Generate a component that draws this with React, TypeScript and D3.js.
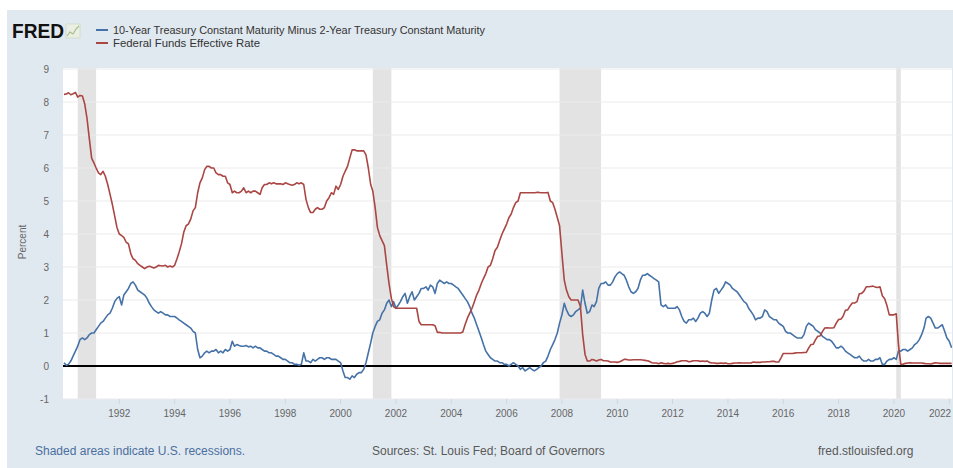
import React from "react";
import * as d3 from "d3";

const fedFundsRate: number[] = [
  8.23, 8.24, 8.28, 8.22, 8.25, 8.29, 8.15, 8.2, 8.18, 7.95, 7.5, 6.9,
  6.3, 6.15, 6.0, 5.85, 5.8, 5.9, 5.75, 5.5, 5.2, 4.9, 4.55, 4.2,
  4.0, 3.95, 3.9, 3.75, 3.7, 3.4, 3.25, 3.2, 3.1, 3.05, 3.0, 2.95,
  3.0, 3.02, 3.0, 2.97, 3.0, 3.05, 3.04, 3.03, 3.05, 3.0, 3.03, 3.0,
  3.05, 3.25, 3.45, 3.7, 4.05, 4.25, 4.3, 4.45, 4.7, 4.8, 5.25, 5.55,
  5.7, 5.95, 6.05, 6.05, 6.0, 6.0, 5.85, 5.8, 5.8, 5.75, 5.75, 5.55,
  5.5, 5.25, 5.3, 5.25, 5.25, 5.3, 5.4, 5.25, 5.3, 5.25, 5.3, 5.3,
  5.25, 5.2, 5.4, 5.5, 5.5, 5.55, 5.52, 5.55, 5.52, 5.52, 5.52, 5.5,
  5.55, 5.52, 5.5, 5.48, 5.5, 5.55, 5.52, 5.55, 5.5, 5.05, 4.8, 4.65,
  4.65, 4.75, 4.8, 4.75, 4.75, 4.8, 5.0, 5.1, 5.25, 5.2, 5.45, 5.35,
  5.5, 5.75, 5.9, 6.05, 6.3, 6.55, 6.55, 6.52, 6.52, 6.52, 6.52, 6.4,
  6.0, 5.5, 5.3, 4.8, 4.2, 3.95, 3.8, 3.65, 3.05, 2.5, 2.05, 1.8,
  1.75, 1.75, 1.75, 1.75, 1.75, 1.75, 1.75, 1.75, 1.75, 1.75, 1.35, 1.25,
  1.25, 1.25, 1.25, 1.25, 1.25, 1.22, 1.02, 1.02, 1.0, 1.0, 1.0, 1.0,
  1.0, 1.0, 1.0, 1.0, 1.0, 1.03, 1.25, 1.45, 1.6, 1.75, 1.95, 2.15,
  2.3, 2.5, 2.65, 2.8, 3.0, 3.05, 3.25, 3.5, 3.6, 3.8, 4.0, 4.15,
  4.3, 4.5, 4.6, 4.8, 4.95, 5.0, 5.25, 5.25, 5.25, 5.25, 5.25, 5.25,
  5.25, 5.26, 5.26, 5.25, 5.25, 5.25, 5.26, 5.0, 4.95, 4.75, 4.5, 4.25,
  3.4, 2.6, 2.3, 2.1, 2.0, 2.0, 2.0, 2.0, 1.8, 0.95, 0.35, 0.15,
  0.15, 0.2, 0.18, 0.15, 0.18, 0.2, 0.16, 0.16, 0.15, 0.12, 0.12, 0.12,
  0.11, 0.13, 0.16, 0.2, 0.2, 0.18, 0.18, 0.19, 0.19, 0.19, 0.19, 0.18,
  0.17, 0.16, 0.14, 0.1, 0.09, 0.09, 0.07, 0.1, 0.08, 0.07, 0.08, 0.07,
  0.08, 0.1, 0.13, 0.14, 0.16, 0.16, 0.16, 0.13, 0.14, 0.16, 0.16, 0.16,
  0.14, 0.15, 0.14, 0.15, 0.11, 0.09, 0.09, 0.08, 0.08, 0.09, 0.08, 0.09,
  0.07, 0.07, 0.08, 0.09, 0.09, 0.1, 0.09, 0.09, 0.09, 0.09, 0.09, 0.12,
  0.11, 0.11, 0.11, 0.12, 0.12, 0.13, 0.13, 0.14, 0.14, 0.12, 0.12, 0.24,
  0.38, 0.38, 0.38, 0.38, 0.38, 0.39, 0.4, 0.4, 0.4, 0.41, 0.41, 0.54,
  0.65, 0.66, 0.79, 0.9, 0.91, 1.04, 1.15, 1.16, 1.15, 1.15, 1.16, 1.3,
  1.41, 1.42, 1.51, 1.69, 1.7, 1.82, 1.91, 1.91, 1.95, 2.19, 2.2, 2.27,
  2.4, 2.4, 2.41, 2.42, 2.39, 2.38, 2.4, 2.13, 2.04, 1.83, 1.55, 1.55,
  1.55, 1.58, 0.65, 0.05, 0.05, 0.08, 0.09, 0.1, 0.09, 0.09, 0.09, 0.09,
  0.09, 0.08, 0.07, 0.07, 0.06, 0.08, 0.1, 0.09, 0.08, 0.08, 0.08, 0.08,
  0.08, 0.08,
];

const spread10y2y: number[] = [
  0.1, 0.02, 0.05, 0.15, 0.3, 0.45, 0.6, 0.8, 0.85, 0.8, 0.85, 0.95,
  1.0, 1.0, 1.1, 1.2, 1.3, 1.35, 1.45, 1.55, 1.6, 1.75, 1.95, 2.05,
  2.1, 1.85, 2.15, 2.25, 2.35, 2.5, 2.55, 2.45, 2.3, 2.25, 2.2, 2.15,
  2.05, 1.9, 1.8, 1.7, 1.65, 1.6, 1.65, 1.6, 1.55, 1.55, 1.5, 1.5,
  1.5, 1.45, 1.4, 1.35, 1.3, 1.25, 1.2, 1.15, 1.05, 1.0, 0.5, 0.25,
  0.3, 0.4, 0.45, 0.4, 0.45, 0.45, 0.5, 0.4, 0.45, 0.4, 0.5, 0.45,
  0.5, 0.75, 0.6, 0.65, 0.62, 0.6, 0.6, 0.62, 0.58, 0.6, 0.55, 0.6,
  0.55, 0.55, 0.5, 0.45, 0.45, 0.4, 0.4, 0.35, 0.3, 0.3, 0.25, 0.2,
  0.2, 0.15, 0.1, 0.1, 0.05, 0.05, 0.02, 0.05, 0.4, 0.15, 0.15, 0.1,
  0.2, 0.15, 0.2, 0.25, 0.25, 0.2, 0.25, 0.25, 0.2, 0.2, 0.2, 0.15,
  0.1, -0.15, -0.35, -0.35, -0.4, -0.3, -0.35, -0.25, -0.2, -0.2, -0.1, 0.1,
  0.4, 0.7, 1.0, 1.2, 1.35, 1.4, 1.6, 1.7, 1.9, 2.0, 1.8, 1.95,
  1.75, 1.85, 1.95, 2.1, 2.2, 1.9, 2.1, 2.25, 2.0, 2.1, 2.2, 2.35,
  2.35, 2.4, 2.3, 2.45, 2.4, 2.2, 2.5, 2.6, 2.55, 2.5, 2.55, 2.5,
  2.5, 2.45, 2.4, 2.35, 2.25, 2.15, 2.05, 1.95, 1.8, 1.6, 1.45, 1.25,
  1.05, 0.85, 0.65, 0.45, 0.35, 0.25, 0.2, 0.15, 0.15, 0.1, 0.1, 0.05,
  0.05, 0.0, 0.05, 0.1, 0.05, 0.0, -0.1, -0.05, -0.15, -0.1, -0.05, -0.1,
  -0.15, -0.1, -0.05, 0.0, 0.1, 0.15, 0.3, 0.5, 0.65, 0.8, 1.0, 1.3,
  1.55, 1.9, 1.7, 1.55, 1.5, 1.55, 1.65, 1.7, 1.75, 2.3, 1.9, 1.6,
  1.65, 1.85, 1.8, 1.95, 2.35, 2.5, 2.5, 2.55, 2.45, 2.45, 2.55, 2.7,
  2.8, 2.85, 2.8, 2.75, 2.6, 2.4, 2.25, 2.2, 2.25, 2.35, 2.6, 2.75,
  2.75, 2.8, 2.75, 2.7, 2.65, 2.6, 2.55, 1.85, 1.8, 1.85, 1.75, 1.75,
  1.75, 1.75, 1.8, 1.7, 1.5, 1.35, 1.3, 1.4, 1.4, 1.45, 1.35, 1.45,
  1.6, 1.65, 1.6, 1.5, 1.6, 2.0, 2.3, 2.35, 2.2, 2.3, 2.4, 2.55,
  2.5, 2.45, 2.35, 2.3, 2.25, 2.15, 2.05, 1.95, 1.9, 1.75, 1.65, 1.55,
  1.4, 1.45, 1.45, 1.5, 1.7, 1.65, 1.5, 1.45, 1.4, 1.4, 1.3, 1.25,
  1.2, 1.05, 1.0, 1.0, 0.95, 0.9, 0.85, 0.85, 0.85, 0.95, 1.2, 1.3,
  1.25, 1.2, 1.1, 1.05, 1.0, 0.9, 0.85, 0.8, 0.8, 0.75, 0.65, 0.55,
  0.55, 0.6, 0.55, 0.45, 0.4, 0.35, 0.3, 0.25, 0.25, 0.3, 0.2, 0.15,
  0.15, 0.2, 0.15, 0.15, 0.2, 0.2, 0.25, 0.05, 0.05, 0.15, 0.2, 0.2,
  0.25, 0.2, 0.45, 0.45, 0.5, 0.5, 0.45, 0.5, 0.55, 0.65, 0.7, 0.8,
  0.95, 1.15, 1.45, 1.5, 1.45, 1.3, 1.15, 1.15, 1.2, 1.25, 1.05, 0.85,
  0.75, 0.55,
];

const startYear = 1990;
const recessionStarts: string[] = ["1990-07-01", "2001-03-01", "2007-12-01", "2020-02-01"];
const recessionEnds: string[] = ["1991-03-01", "2001-11-01", "2009-06-01", "2020-04-01"];
const yTicks: number[] = [-1, 0, 1, 2, 3, 4, 5, 6, 7, 8, 9];
const xTickYears: number[] = [1992, 1994, 1996, 1998, 2000, 2002, 2004, 2006, 2008, 2010, 2012, 2014, 2016, 2018, 2020, 2022];
const seriesNames: string[] = [
  "10-Year Treasury Constant Maturity Minus 2-Year Treasury Constant Maturity",
  "Federal Funds Effective Rate",
];
const seriesColors: string[] = ["#4572a7", "#aa4643"];

const FONT = "'Liberation Sans', Arial, sans-serif";

const monthDate = (i: number) => new Date(Date.UTC(startYear, i, 1));

export default function App() {
  const W = 953;
  const H = 468;
  const left = 63;
  const right = 952;
  const top = 68;
  const bottom = 399;

  const x = d3
    .scaleUtc()
    .domain([new Date(Date.UTC(1990, 0, 1)), new Date(Date.UTC(2022, 1, 6))])
    .range([64, 952]);
  const y = d3.scaleLinear().domain([-1, 9]).range([399, 69]);

  const line = d3
    .line<number>()
    .x((_, i) => x(monthDate(i)))
    .y((d) => y(d));

  const series = [spread10y2y, fedFundsRate];

  return (
    <svg
      width={W}
      height={H}
      style={{ position: "absolute", left: 0, top: 0, display: "block" }}
      fontFamily={FONT}
    >
      <defs>
        <clipPath id="plotClip">
          <rect x={left} y={top} width={right - left} height={bottom - top} />
        </clipPath>
      </defs>
      <rect x={0} y={0} width={W} height={H} fill="#ffffff" />
      <rect x={7} y={10} width={W - 7} height={H - 10} fill="#e1e9f0" />

      {/* Header */}
      <text x={12} y={38} fontSize={21} fontWeight="bold" fill="#111" textLength={52} lengthAdjust="spacingAndGlyphs">
        FRED
      </text>
      <g transform="translate(66,24)">
        <rect x={0} y={0} width={14} height={14} fill="#e9efe3" stroke="#c9d4bd" strokeWidth={0.6} />
        <polyline points="1,12 4,8 7,10 10,5 13,2" fill="none" stroke="#a9bc8c" strokeWidth={1.2} />
      </g>
      {seriesNames.map((name, i) => (
        <g key={name}>
          <line x1={96} x2={108} y1={30 + i * 13} y2={30 + i * 13} stroke={seriesColors[i]} strokeWidth={2} />
          <text
            x={113}
            y={34 + i * 13}
            fontSize={11}
            fill="#333"
            textLength={i === 0 ? 372 : 147}
            lengthAdjust="spacingAndGlyphs"
          >
            {name}
          </text>
        </g>
      ))}

      {/* Plot area */}
      <rect x={left} y={top} width={right - left} height={bottom - top} fill="#ffffff" />
      {recessionStarts.map((s, i) => {
        const x0 = x(new Date(s + "T00:00:00Z"));
        const x1 = x(new Date(recessionEnds[i] + "T00:00:00Z"));
        return <rect key={s} x={x0} y={top} width={Math.max(x1 - x0, 3)} height={bottom - top} fill="#e3e3e3" />;
      })}
      {yTicks.map((t) => (
        <line key={t} x1={left} x2={right} y1={y(t)} y2={y(t)} stroke="#ebebeb" strokeWidth={1} />
      ))}
      <line x1={left} x2={right} y1={y(0)} y2={y(0)} stroke="#000" strokeWidth={2} />

      <g clipPath="url(#plotClip)">
        {series.map((s, i) => (
          <path key={i} d={line(s) || ""} fill="none" stroke={seriesColors[i]} strokeWidth={1.6} strokeLinejoin="round" />
        ))}
      </g>

      {/* Y axis */}
      {yTicks.map((t) => (
        <text key={t} x={49} y={y(t) + 3.5} fontSize={10} fill="#666" textAnchor="end">
          {t}
        </text>
      ))}
      <text x={0} y={0} fontSize={10} fill="#666" textAnchor="middle" transform={`translate(26,242) rotate(-90)`}>
        Percent
      </text>

      {/* X axis */}
      {xTickYears.map((yr) => {
        const xp = x(new Date(Date.UTC(yr, 0, 1)));
        const lx = Math.min(xp, W - 13);
        return (
          <g key={yr}>
            <line x1={xp} x2={xp} y1={bottom} y2={bottom + 5} stroke="#cfd6dc" strokeWidth={1} />
            <text x={lx} y={417} fontSize={10} fill="#666" textAnchor="middle">
              {d3.utcFormat("%Y")(new Date(Date.UTC(yr, 0, 1)))}
            </text>
          </g>
        );
      })}

      {/* Footer */}
      <text x={35} y={455} fontSize={12} fill="#4a6f9f">Shaded areas indicate U.S. recessions.</text>
      <text x={372} y={455} fontSize={12} fill="#595959">Sources: St. Louis Fed; Board of Governors</text>
      <text x={818} y={455} fontSize={12} fill="#595959">fred.stlouisfed.org</text>
    </svg>
  );
}
